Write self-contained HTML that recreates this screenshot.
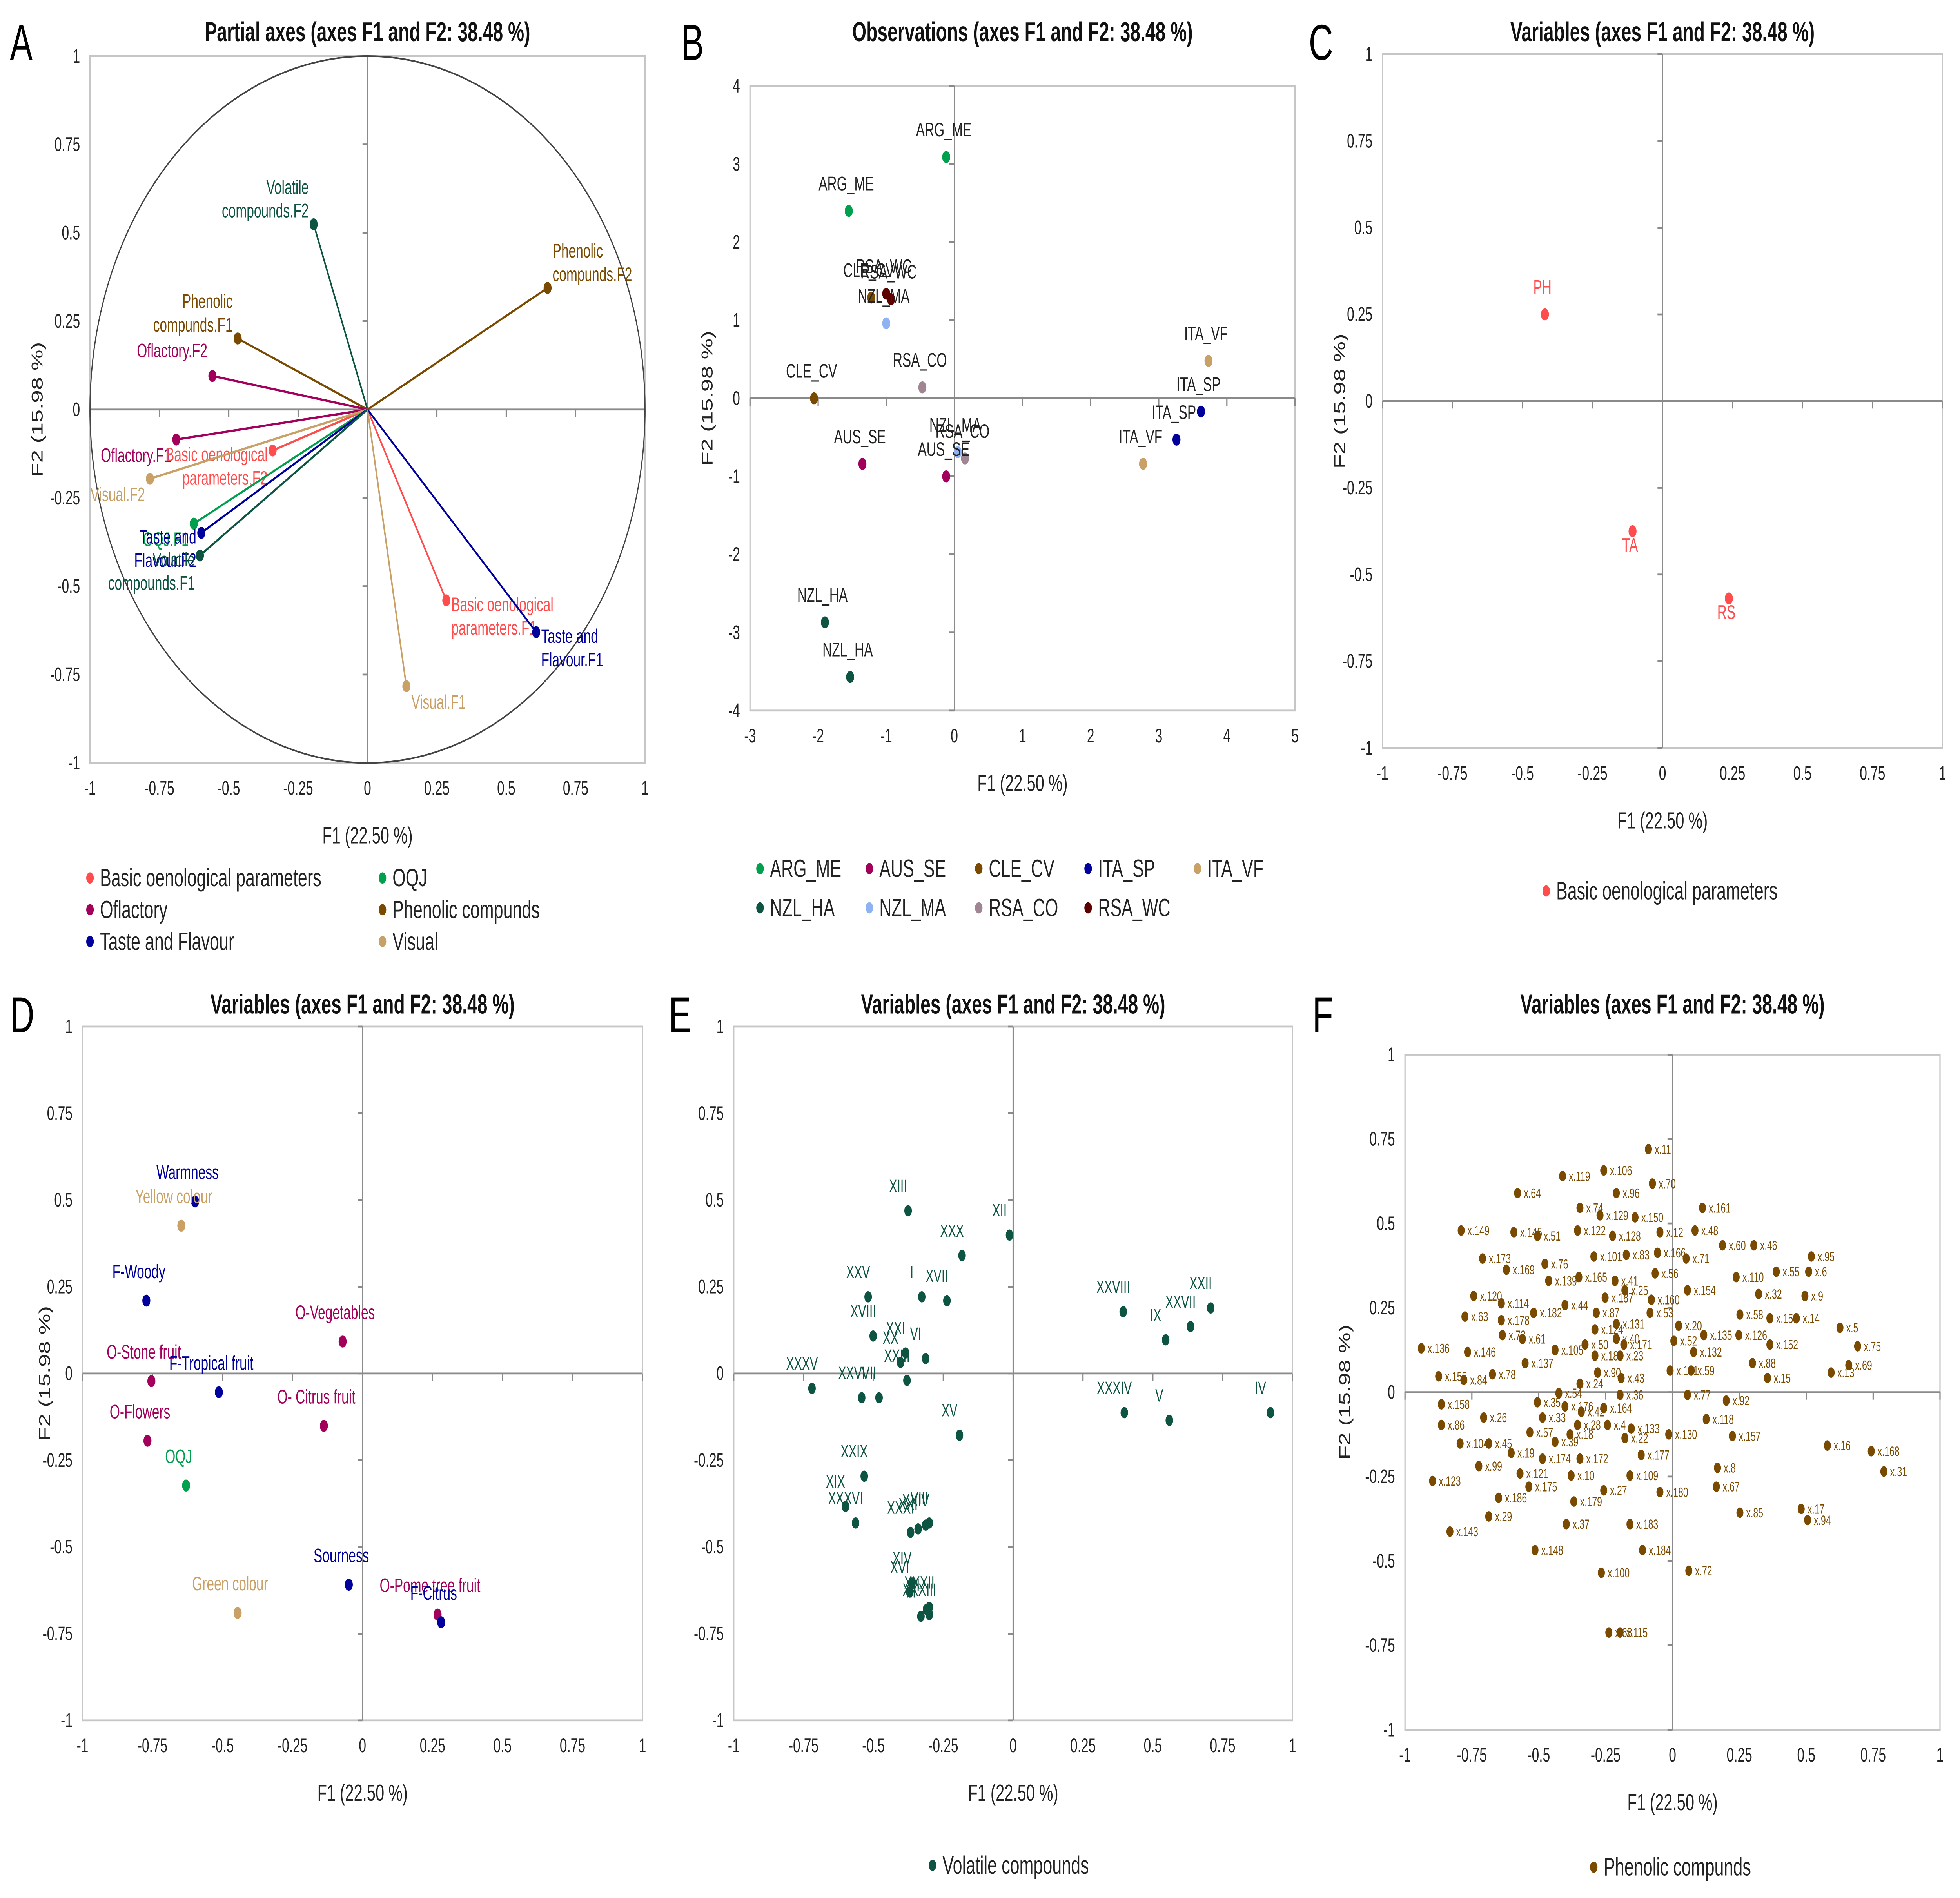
<!DOCTYPE html>
<html><head><meta charset="utf-8"><style>
html,body{margin:0;padding:0;background:#fff;width:100vw;height:100vh;overflow:hidden}
svg{display:block;position:absolute;left:0;top:0;width:100vw;height:100vh}
text{font-family:"Liberation Sans",sans-serif}
</style></head><body>
<svg id="svgroot" xmlns="http://www.w3.org/2000/svg" viewBox="0 0 1568 1015" preserveAspectRatio="none">
<rect x="0" y="0" width="1568" height="1015" fill="#fff"/>
<g id="root"></g>
</svg>
<script>
// ---------- DATA ----------
const unitTicks = ["-1","-0.75","-0.5","-0.25","0","0.25","0.5","0.75","1"];
const unitTickVals = [-1,-0.75,-0.5,-0.25,0,0.25,0.5,0.75,1];
const bXTicks = [-3,-2,-1,0,1,2,3,4,5];
const bYTicks = [-4,-3,-2,-1,0,1,2,3,4];

// Panel A
const aNames = ["Volatile\ncompounds.F2","Phenolic\ncompunds.F2","Phenolic\ncompunds.F1","Oflactory.F2","Oflactory.F1","Basic oenological\nparameters.F2","Basic oenological\nparameters.F1","Visual.F2","OQJ.F1","Taste and\nFlavour.F2","Volatile\ncompounds.F1","Taste and\nFlavour.F1","Visual.F1"];
const aF1 = [-0.194,0.649,-0.468,-0.559,-0.689,-0.342,0.284,-0.784,-0.626,-0.599,-0.604,0.608,0.14];
const aF2 = [0.524,0.344,0.201,0.095,-0.085,-0.116,-0.540,-0.196,-0.323,-0.349,-0.413,-0.630,-0.783];
const aGroup = ["vol","phe","phe","olf","olf","bas","bas","vis","oqj","tas","vol","tas","vis"];

// Panel B
const bNames = ["ARG_ME","ARG_ME","RSA_WC","RSA_WC","CLE_CV","NZL_MA","RSA_CO","CLE_CV","AUS_SE","NZL_MA","RSA_CO","AUS_SE","ITA_VF","ITA_SP","ITA_SP","ITA_VF","NZL_HA","NZL_HA"];
const bF1 = [-0.12,-1.55,-1.0,-0.93,-1.22,-1.0,-0.47,-2.06,-1.35,0.05,0.156,-0.12,3.73,3.62,3.26,2.77,-1.9,-1.53];
const bF2 = [3.09,2.40,1.34,1.27,1.29,0.96,0.14,0.0,-0.84,-0.69,-0.77,-1.0,0.48,-0.17,-0.53,-0.84,-2.87,-3.57];

// Panel C
const cNames = ["PH","TA","RS"];
const cF1 = [-0.42,-0.107,0.237];
const cF2 = [0.25,-0.375,-0.569];

// Panel D
const dNames = ["Warmness","Yellow colour","F-Woody","O-Vegetables","O-Stone fruit","F-Tropical fruit","O- Citrus fruit","O-Flowers","OQJ","Sourness","O-Pome tree fruit","F-Citrus","Green colour"];
const dF1 = [-0.598,-0.647,-0.772,-0.071,-0.754,-0.513,-0.138,-0.768,-0.63,-0.049,0.268,0.281,-0.446];
const dF2 = [0.496,0.426,0.21,0.092,-0.022,-0.054,-0.151,-0.194,-0.323,-0.609,-0.695,-0.717,-0.69];
const dGroup = ["tas","vis","tas","olf","olf","tas","olf","olf","oqj","tas","olf","tas","vis"];

// Panel E
const eNames = ["XIII","XII","XXX","XVII","I","XXV","XVIII","XXI","XX","VI","XXXV","XXVI","VII","XXIII","XXIX","XIX","XXXVI","XXXI","XXIV","XXI","VIII","XIV","XVI","XXXII","XXXIII","II","III","XV","XXVIII","IX","XXVII","XXII","XXXIV","V","IV"];
const eF1 = [-0.376,-0.013,-0.183,-0.237,-0.327,-0.519,-0.501,-0.385,-0.403,-0.313,-0.72,-0.542,-0.48,-0.38,-0.533,-0.6,-0.564,-0.367,-0.313,-0.34,-0.3,-0.362,-0.37,-0.3,-0.3,-0.31,-0.33,-0.192,0.394,0.546,0.635,0.707,0.398,0.559,0.921];
const eF2 = [0.469,0.399,0.34,0.21,0.221,0.221,0.108,0.059,0.032,0.043,-0.043,-0.07,-0.07,-0.02,-0.296,-0.383,-0.431,-0.458,-0.437,-0.448,-0.431,-0.604,-0.63,-0.674,-0.695,-0.68,-0.7,-0.178,0.178,0.097,0.135,0.189,-0.113,-0.135,-0.113];

// Panel F
const fNames = ["x.11","x.106","x.70","x.119","x.96","x.64","x.161","x.74","x.129","x.150","x.149","x.145","x.51","x.122","x.128","x.12","x.48","x.173","x.101","x.83","x.166","x.71","x.60","x.46","x.95","x.169","x.76","x.56","x.55","x.6","x.139","x.165","x.41","x.25","x.154","x.110","x.32","x.9","x.120","x.114","x.187","x.160","x.58","x.159","x.14","x.63","x.178","x.182","x.44","x.87","x.53","x.131","x.5","x.73","x.61","x.124","x.40","x.20","x.135","x.126","x.75","x.136","x.146","x.105","x.50","x.171","x.52","x.152","x.185","x.23","x.132","x.88","x.69","x.13","x.137","x.59","x.15","x.155","x.84","x.78","x.90","x.141","x.24","x.43","x.36","x.77","x.54","x.92","x.158","x.35","x.176","x.42","x.164","x.26","x.33","x.118","x.86","x.28","x.4","x.133","x.157","x.57","x.18","x.104","x.45","x.39","x.22","x.130","x.16","x.168","x.31","x.177","x.19","x.174","x.172","x.8","x.99","x.121","x.10","x.109","x.123","x.175","x.27","x.180","x.67","x.186","x.179","x.29","x.143","x.37","x.183","x.85","x.17","x.94","x.148","x.184","x.100","x.72","x.68","x.115"];
const fF1 = [-0.09,-0.257,-0.075,-0.411,-0.21,-0.579,0.112,-0.346,-0.271,-0.14,-0.79,-0.593,-0.505,-0.355,-0.224,-0.047,0.084,-0.71,-0.294,-0.173,-0.056,0.051,0.187,0.304,0.519,-0.621,-0.477,-0.065,0.388,0.509,-0.463,-0.35,-0.215,-0.178,0.056,0.238,0.322,0.495,-0.743,-0.64,-0.252,-0.079,0.252,0.364,0.463,-0.776,-0.64,-0.519,-0.402,-0.285,-0.084,-0.21,0.626,-0.636,-0.561,-0.29,-0.21,0.023,0.117,0.248,0.692,-0.939,-0.766,-0.439,-0.327,-0.182,0.005,0.364,-0.29,-0.196,0.079,0.299,0.659,0.593,-0.551,0.07,0.355,-0.874,-0.78,-0.673,-0.28,-0.009,-0.346,-0.192,-0.196,0.056,-0.425,0.201,-0.864,-0.505,-0.402,-0.341,-0.257,-0.706,-0.486,0.126,-0.864,-0.355,-0.243,-0.154,0.224,-0.533,-0.383,-0.794,-0.687,-0.439,-0.178,-0.014,0.579,0.743,0.79,-0.117,-0.603,-0.486,-0.346,0.168,-0.724,-0.57,-0.379,-0.159,-0.897,-0.537,-0.257,-0.047,0.164,-0.65,-0.369,-0.687,-0.832,-0.397,-0.159,0.252,0.481,0.505,-0.514,-0.112,-0.266,0.061,-0.238,-0.196];
const fF2 = [0.72,0.657,0.618,0.64,0.59,0.59,0.546,0.546,0.524,0.518,0.479,0.474,0.463,0.479,0.463,0.474,0.479,0.396,0.402,0.407,0.413,0.396,0.435,0.435,0.402,0.363,0.38,0.352,0.357,0.357,0.33,0.341,0.33,0.302,0.302,0.341,0.291,0.285,0.285,0.263,0.28,0.274,0.23,0.219,0.219,0.224,0.213,0.235,0.258,0.235,0.235,0.202,0.191,0.169,0.158,0.186,0.158,0.197,0.169,0.169,0.136,0.13,0.119,0.125,0.141,0.141,0.152,0.141,0.108,0.108,0.119,0.086,0.08,0.058,0.086,0.064,0.042,0.047,0.036,0.053,0.058,0.064,0.025,0.042,-0.008,-0.008,-0.003,-0.025,-0.036,-0.03,-0.042,-0.058,-0.047,-0.075,-0.075,-0.08,-0.097,-0.097,-0.097,-0.108,-0.13,-0.119,-0.125,-0.152,-0.152,-0.147,-0.136,-0.125,-0.158,-0.175,-0.235,-0.186,-0.18,-0.197,-0.197,-0.224,-0.219,-0.241,-0.247,-0.247,-0.263,-0.28,-0.291,-0.296,-0.28,-0.313,-0.324,-0.368,-0.413,-0.391,-0.391,-0.357,-0.346,-0.379,-0.468,-0.468,-0.535,-0.529,-0.712,-0.712];

// ---------- STYLE / LAYOUT ----------
const groupColor = {bas:"#ff4d4d",olf:"#a3005c",tas:"#00009c",oqj:"#00a04e",phe:"#7a4a00",vis:"#c9a066",vol:"#0d5443"};
const obsColor = {ARG_ME:"#00a04e",AUS_SE:"#a3005c",CLE_CV:"#7a4a00",ITA_SP:"#00009c",ITA_VF:"#c9a066",NZL_HA:"#0d5443",NZL_MA:"#8fb2f2",RSA_CO:"#a08592",RSA_WC:"#5c0000"};

const svg = document.getElementById('root');
const NS = "http://www.w3.org/2000/svg";
function mk(tag, attrs, parent){
  const e = document.createElementNS(NS, tag);
  for (const k in attrs) e.setAttribute(k, attrs[k]);
  (parent || svg).appendChild(e);
  return e;
}
function txt(str, attrs, parent){
  const t = mk('text', attrs, parent);
  const lines = String(str).split('\n');
  if (lines.length === 1) { t.textContent = str; return t; }
  const fs = parseFloat(attrs['font-size']||10);
  lines.forEach((l,i)=>{
    const s = mk('tspan', {x: attrs.x, dy: i===0 ? (-(lines.length-1)*fs*0.6) : fs*1.2}, t);
    s.textContent = l;
  });
  return t;
}

function panel(p){
  const g = mk('g', {});
  
  
  const sx = v => p.left + (v - p.xmin) / (p.xmax - p.xmin) * (p.right - p.left);
  const sy = v => p.bottom - (v - p.ymin) / (p.ymax - p.ymin) * (p.bottom - p.top);
  const frame = mk('rect', {x:p.left, y:p.top, width:p.right-p.left, height:p.bottom-p.top, fill:"none", stroke:"#c6c6c6", "stroke-width":1}, g);
  
  
  const x0 = sx(0), y0 = sy(0);
  const va = mk('line', {x1:x0, y1:p.top, x2:x0, y2:p.bottom, stroke:"#8a8a8a", "stroke-width":1}, g);
  
  
  const ha = mk('line', {x1:p.left, y1:y0, x2:p.right, y2:y0, stroke:"#8a8a8a", "stroke-width":1}, g);
  
  
  p.xt.forEach((v,i)=>{
    mk('line', {x1:sx(v), y1:y0, x2:sx(v), y2:y0+4, stroke:"#8a8a8a", "stroke-width":1}, g);
    const t = txt(p.xtl[i], {x:sx(v), y:p.bottom+17, "font-size":10.5, "text-anchor":"middle", fill:"#222"}, g);
    
    
  });
  p.yt.forEach((v,i)=>{
    mk('line', {x1:x0-4, y1:sy(v), x2:x0, y2:sy(v), stroke:"#8a8a8a", "stroke-width":1}, g);
    const t = txt(p.ytl[i], {x:p.left-8, y:sy(v)+3.5, "font-size":10.5, "text-anchor":"end", fill:"#222"}, g);
    
    
  });
  const tt = txt(p.title, {x:(p.left+p.right)/2, y:p.titleY, "font-size":14.5, "font-weight":"bold", "text-anchor":"middle", fill:"#111"}, g);
  
  
  const xt = txt("F1 (22.50 %)", {x:(p.left+p.right)/2, y:p.bottom+43, "font-size":12.5, "text-anchor":"middle", fill:"#222"}, g);
  
  
  if (p.yTitleX) {
    const yt = txt("F2 (15.98 %)", {x:p.yTitleX, y:(p.top+p.bottom)/2, "font-size":12.5, "text-anchor":"middle", fill:"#222", transform:`rotate(-90 ${p.yTitleX} ${(p.top+p.bottom)/2})`}, g);
    
    
  }
  const lt = txt(p.letter, {x:p.letterX, y:p.letterY, "font-size":27, fill:"#000"}, g);
  
  
  return {g, sx, sy};
}
function point(g, x, y, r, color){
  const c = mk('circle', {cx:x, cy:y, r:r, fill:color}, g);
  
  
  return c;
}
function label(g, s, x, y, fs, color, anchor){
  const t = txt(s, {x:x, y:y, "font-size":fs, fill:color, "text-anchor":anchor||"start"}, g);
  
  
  return t;
}
function legendItem(g, s, x, y, color){
  const c = mk('circle', {cx:x, cy:y-4.5, r:3, fill:color}, g);
  
  
  const t = txt(s, {x:x+8, y:y, "font-size":13.5, fill:"#222"}, g);
  
  
}
const U = {xt:unitTickVals, xtl:unitTicks, yt:unitTickVals, ytl:unitTicks, xmin:-1,xmax:1,ymin:-1,ymax:1};

// ---------- PANEL A ----------
(function(){
  const P = panel(Object.assign({}, U, {name:"panel-a-partial-axes", left:72,right:516,top:30,bottom:408, title:"Partial axes (axes F1 and F2: 38.48 %)", titleY:22, yTitleX:34, letter:"A", letterX:8, letterY:32}));
  const e = mk('ellipse', {cx:P.sx(0), cy:P.sy(0), rx:P.sx(1)-P.sx(0), ry:P.sy(0)-P.sy(1), fill:"none", stroke:"#444", "stroke-width":0.9}, P.g);
  
  
  aNames.forEach((n,i)=>{
    const col = groupColor[aGroup[i]];
    const x = P.sx(aF1[i]), y = P.sy(aF2[i]);
    const l = mk('line', {x1:P.sx(0), y1:P.sy(0), x2:x, y2:y, stroke:col, "stroke-width":1.2}, P.g);
    
    
    point(P.g, x, y, 3.2, col);
    const right = aF1[i] > 0;
    label(P.g, n, x + (right ? 4 : -4), y + (aF2[i] > 0 ? -10 : 12), 10.5, col, right ? "start" : "end");
  });
  const lg = mk('g', {});
  
  
  legendItem(lg, "Basic oenological parameters", 72, 474, groupColor.bas);
  legendItem(lg, "OQJ", 306, 474, groupColor.oqj);
  legendItem(lg, "Oflactory", 72, 491, groupColor.olf);
  legendItem(lg, "Phenolic compunds", 306, 491, groupColor.phe);
  legendItem(lg, "Taste and Flavour", 72, 508, groupColor.tas);
  legendItem(lg, "Visual", 306, 508, groupColor.vis);
})();

// ---------- PANEL B ----------
(function(){
  const P = panel({name:"panel-b-observations", left:600,right:1036,top:46,bottom:380, xmin:-3,xmax:5,ymin:-4,ymax:4, xt:bXTicks, xtl:bXTicks.map(String), yt:bYTicks, ytl:bYTicks.map(String), title:"Observations (axes F1 and F2: 38.48 %)", titleY:22, yTitleX:570, letter:"B", letterX:545, letterY:32});
  bNames.forEach((n,i)=>{
    const x = P.sx(bF1[i]), y = P.sy(bF2[i]);
    point(P.g, x, y, 3.2, obsColor[n]);
    label(P.g, n, x - 2, y - 11, 10.5, "#222", "middle");
  });
  const lg = mk('g', {});
  
  
  ["ARG_ME","AUS_SE","CLE_CV","ITA_SP","ITA_VF"].forEach((n,i)=>legendItem(lg, n, 608 + i*87.5, 469, obsColor[n]));
  ["NZL_HA","NZL_MA","RSA_CO","RSA_WC"].forEach((n,i)=>legendItem(lg, n, 608 + i*87.5, 490, obsColor[n]));
})();

// ---------- PANEL C ----------
(function(){
  const P = panel(Object.assign({}, U, {name:"panel-c-variables-basic", left:1106,right:1554,top:29,bottom:400, title:"Variables (axes F1 and F2: 38.48 %)", titleY:22, yTitleX:1076, letter:"C", letterX:1047, letterY:32}));
  cNames.forEach((n,i)=>{
    const x = P.sx(cF1[i]), y = P.sy(cF2[i]);
    point(P.g, x, y, 3.2, groupColor.bas);
    label(P.g, n, x - 2, y - 11 + (i>0?22:0), 10.5, groupColor.bas, "middle");
  });
  const lg = mk('g', {});
  
  
  legendItem(lg, "Basic oenological parameters", 1237, 481, groupColor.bas);
})();

// ---------- PANEL D ----------
(function(){
  const P = panel(Object.assign({}, U, {name:"panel-d-variables-sensory", left:66,right:514,top:549,bottom:920, title:"Variables (axes F1 and F2: 38.48 %)", titleY:542, yTitleX:40, letter:"D", letterX:8, letterY:552}));
  dNames.forEach((n,i)=>{
    const col = groupColor[dGroup[i]];
    const x = P.sx(dF1[i]), y = P.sy(dF2[i]);
    point(P.g, x, y, 3.2, col);
    label(P.g, n, x - 6, y - 12, 10.5, col, "middle");
  });
})();

// ---------- PANEL E ----------
(function(){
  const P = panel(Object.assign({}, U, {name:"panel-e-variables-volatile", left:587,right:1034,top:549,bottom:920, title:"Variables (axes F1 and F2: 38.48 %)", titleY:542, yTitleX:0, letter:"E", letterX:535, letterY:552}));
  eNames.forEach((n,i)=>{
    const x = P.sx(eF1[i]), y = P.sy(eF2[i]);
    point(P.g, x, y, 3, groupColor.vol);
    label(P.g, n, x - 8, y - 10, 9.5, groupColor.vol, "middle");
  });
  const lg = mk('g', {});
  
  
  legendItem(lg, "Volatile compounds", 746, 1002, groupColor.vol);
})();

// ---------- PANEL F ----------
(function(){
  const P = panel(Object.assign({}, U, {name:"panel-f-variables-phenolic", left:1124,right:1552,top:564,bottom:925, title:"Variables (axes F1 and F2: 38.48 %)", titleY:542, yTitleX:1080, letter:"F", letterX:1050, letterY:552}));
  fNames.forEach((n,i)=>{
    const x = P.sx(fF1[i]), y = P.sy(fF2[i]);
    point(P.g, x, y, 2.8, groupColor.phe);
    label(P.g, n, x + 5, y + 2.5, 7.2, groupColor.phe, "start");
  });
  const lg = mk('g', {});
  
  
  legendItem(lg, "Phenolic compunds", 1275, 1003, groupColor.phe);
})();
</script>
</body></html>
